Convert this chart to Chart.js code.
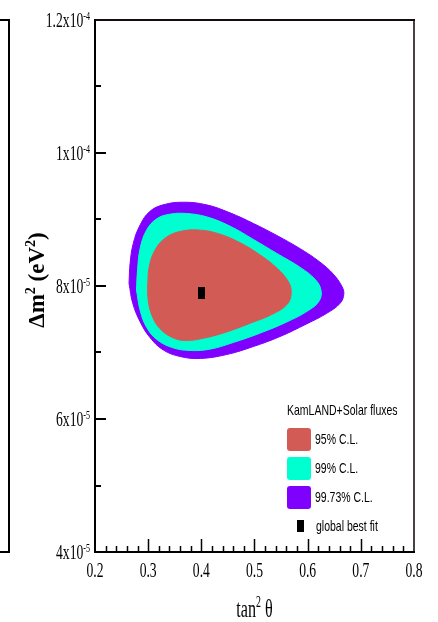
<!DOCTYPE html>
<html>
<head>
<meta charset="utf-8">
<script src="https://cdn.jsdelivr.net/npm/chart.js@4.4.1/dist/chart.umd.min.js"></script>
<style>
  html, body { margin: 0; padding: 0; background: #ffffff; }
  #wrap { position: relative; width: 438px; height: 622px; overflow: hidden; }
  #prev { position: absolute; left: -4px; top: 19px; width: 10px; height: 530px; border: 2px solid #000; }
  canvas { position: absolute; left: 0; top: 0; }
</style>
</head>
<body>
<div id="wrap">
  <div id="prev"></div>
  <canvas id="c" width="438" height="622"></canvas>
</div>
<script>
// Allowed regions in the (tan^2 theta, Delta m^2) plane, KamLAND + solar fluxes
const cl9973Tan2 = [0.264,0.266,0.272,0.285,0.303,0.328,0.366,0.410,0.454,0.498,0.542,0.586,0.623,0.648,0.664,0.668,0.661,0.636,0.598,0.548,0.498,0.448,0.398,0.360,0.328,0.303,0.285,0.271];
const cl9973Dm2  = [8.04e-5,8.34e-5,8.64e-5,8.92e-5,9.12e-5,9.22e-5,9.26e-5,9.22e-5,9.10e-5,8.94e-5,8.76e-5,8.56e-5,8.36e-5,8.18e-5,8.00e-5,7.88e-5,7.74e-5,7.59e-5,7.43e-5,7.24e-5,7.09e-5,6.97e-5,6.91e-5,6.94e-5,7.04e-5,7.23e-5,7.46e-5,7.74e-5];

const cl99Tan2 = [0.278,0.280,0.285,0.297,0.316,0.341,0.372,0.410,0.454,0.498,0.542,0.586,0.614,0.625,0.622,0.601,0.561,0.510,0.460,0.416,0.379,0.347,0.317,0.297,0.285];
const cl99Dm2  = [7.94e-5,8.24e-5,8.57e-5,8.84e-5,9.01e-5,9.08e-5,9.09e-5,9.04e-5,8.90e-5,8.70e-5,8.49e-5,8.28e-5,8.10e-5,7.94e-5,7.78e-5,7.63e-5,7.46e-5,7.29e-5,7.15e-5,7.05e-5,7.03e-5,7.07e-5,7.19e-5,7.38e-5,7.63e-5];

const cl95Tan2 = [0.299,0.302,0.313,0.332,0.360,0.398,0.435,0.473,0.510,0.542,0.564,0.569,0.561,0.532,0.492,0.448,0.407,0.372,0.347,0.322,0.307,0.300];
const cl95Dm2  = [7.99e-5,8.29e-5,8.54e-5,8.72e-5,8.82e-5,8.84e-5,8.78e-5,8.65e-5,8.47e-5,8.27e-5,8.06e-5,7.89e-5,7.72e-5,7.57e-5,7.44e-5,7.31e-5,7.22e-5,7.18e-5,7.22e-5,7.36e-5,7.56e-5,7.79e-5];

const bestFitTan2 = [0.40];
const bestFitDm2  = [7.90e-5];

const seriesLabels = ['95% C.L.', '99% C.L.', '99.73% C.L.', 'global best fit'];
const seriesColors = ['#d25b56', '#00ffd0', '#8000ff', '#000000'];
const legendTitle = 'KamLAND+Solar fluxes';

const xTickValues = [0.2, 0.3, 0.4, 0.5, 0.6, 0.7, 0.8];
const xTickLabels = ['0.2', '0.3', '0.4', '0.5', '0.6', '0.7', '0.8'];
const yTickValues = [4e-5, 6e-5, 8e-5, 1e-4, 1.2e-4];
const yTickMantissa = ['4', '6', '8', '1', '1.2'];
const yTickExponent = ['-5', '-5', '-5', '-4', '-4'];

// closed outline for a contour
function loop(xs, ys) {
  const pts = xs.map((x, i) => ({ x: x, y: ys[i] }));
  pts.push({ x: xs[0], y: ys[0] });
  return pts;
}

// small black rectangle used as the best-fit marker
const marker = document.createElement('canvas');
marker.width = 7; marker.height = 12;
(function () { const m = marker.getContext('2d'); m.fillStyle = '#000'; m.fillRect(0, 0, 7, 12); })();

// narrow text: glyphs squeezed horizontally
const SX = 0.62;
const SXL = 0.7;
function drawText(ctx, str, x, y, font, align, sx) {
  ctx.save();
  ctx.font = font; ctx.textAlign = align; ctx.textBaseline = 'alphabetic';
  ctx.translate(x, y); ctx.scale(sx, 1);
  ctx.fillText(str, 0, 0);
  ctx.restore();
}
function textWidth(ctx, str, font) {
  ctx.save(); ctx.font = font; const w = ctx.measureText(str).width; ctx.restore(); return w;
}

const framePlugin = {
  id: 'frame',
  afterDraw(chart) {
    const ctx = chart.ctx, ca = chart.chartArea;
    const xs = chart.scales.x, ys = chart.scales.y;
    ctx.save();
    ctx.fillStyle = '#000';

    // frame
    ctx.lineWidth = 2;
    ctx.strokeStyle = '#4a4242';
    ctx.beginPath(); ctx.moveTo(ca.right, ca.top); ctx.lineTo(ca.right, ca.bottom); ctx.stroke();
    ctx.strokeStyle = '#140c0c';
    ctx.beginPath(); ctx.moveTo(ca.left, ca.top); ctx.lineTo(ca.right + 1, ca.top); ctx.stroke();
    ctx.strokeStyle = '#000';
    ctx.beginPath();
    ctx.moveTo(ca.left, ca.top - 1); ctx.lineTo(ca.left, ca.bottom);
    ctx.lineTo(ca.right + 1, ca.bottom);
    ctx.stroke();

    // inward ticks on the bottom axis
    ctx.lineWidth = 1.5;
    for (let i = 1; i < 30; i++) {
      const v = 0.2 + i * 0.02;
      const px = Math.round(xs.getPixelForValue(v)) + 0.5;
      const major = i % 5 === 0;
      ctx.beginPath(); ctx.moveTo(px, ca.bottom); ctx.lineTo(px, ca.bottom - (major ? 13 : 6)); ctx.stroke();
    }
    // inward ticks on the left axis
    ctx.lineWidth = 2;
    for (let i = 1; i < 8; i++) {
      const v = 4e-5 + i * 1e-5;
      const py = Math.round(ys.getPixelForValue(v));
      const major = i % 2 === 0;
      ctx.beginPath(); ctx.moveTo(ca.left, py); ctx.lineTo(ca.left + (major ? 11 : 6), py); ctx.stroke();
    }

    // tick labels
    const baseFont = '22px "Liberation Serif"', supFont = '13px "Liberation Serif"';
    yTickValues.forEach((v, i) => {
      const py = ys.getPixelForValue(v);
      const ws = textWidth(ctx, yTickExponent[i], supFont) * SX;
      const xr = ca.left - 5;
      drawText(ctx, yTickMantissa[i] + 'x10', xr - ws, py + 7, baseFont, 'right', SX);
      drawText(ctx, yTickExponent[i], xr - ws, py, supFont, 'left', SX);
    });
    xTickValues.forEach((v, i) => {
      const px = xs.getPixelForValue(v);
      drawText(ctx, xTickLabels[i], px, ca.bottom + 25, baseFont, 'center', SX);
    });

    // x axis title: tan^2 theta
    const tFont = '26px "Liberation Serif"', tSup = '16px "Liberation Serif"';
    const p1 = 'tan', p2 = '2', p3 = ' \u03B8';
    const w1 = textWidth(ctx, p1, tFont) * SX, w2 = textWidth(ctx, p2, tSup) * SX, w3 = textWidth(ctx, p3, tFont) * SX;
    let tx = (ca.left + ca.right) / 2 - (w1 + w2 + w3) / 2;
    const tb = ca.bottom + 65;
    drawText(ctx, p1, tx, tb, tFont, 'left', SX); tx += w1;
    drawText(ctx, p2, tx, tb - 10, tSup, 'left', SX); tx += w2;
    drawText(ctx, p3, tx, tb, tFont, 'left', SX);

    // y axis title: Delta m^2 (eV^2), rotated
    const yFont = 'bold 23px "Liberation Serif"', ySup = 'bold 14px "Liberation Serif"';
    const parts = [['\u0394m', yFont, 0], ['2', ySup, -9], [' (eV', yFont, 0], ['2', ySup, -9], [')', yFont, 0]];
    const widths = parts.map(p => textWidth(ctx, p[0], p[1]));
    const total = widths.reduce((a, b) => a + b, 0);
    ctx.save();
    ctx.translate(44, (ca.top + ca.bottom) / 2 - 6);
    ctx.rotate(-Math.PI / 2);
    ctx.textBaseline = 'alphabetic'; ctx.textAlign = 'left';
    let u = -total / 2;
    parts.forEach((p, i) => { ctx.font = p[1]; ctx.fillText(p[0], u, p[2]); u += widths[i]; });
    ctx.restore();

    // legend inside the plot
    const lx = ca.right - 127;
    const lFont = '15px "Liberation Sans"';
    drawText(ctx, legendTitle, lx, 415, lFont, 'left', SXL);
    const contourOrder = [0, 1, 2];
    contourOrder.forEach((k, j) => {
      const top = 428 + j * 29;
      ctx.fillStyle = seriesColors[k];
      ctx.beginPath();
      ctx.roundRect(lx, top, 24, 23, 3);
      ctx.fill();
      ctx.fillStyle = '#000';
      drawText(ctx, seriesLabels[k], lx + 28, top + 16, lFont, 'left', SXL);
    });
    ctx.drawImage(marker, lx + 10, 520);
    drawText(ctx, seriesLabels[3], lx + 29, 531, lFont, 'left', SXL);

    ctx.restore();
  }
};

new Chart(document.getElementById('c'), {
  type: 'scatter',
  data: {
    datasets: [
      { label: seriesLabels[3], data: bestFitTan2.map((x, i) => ({ x: x, y: bestFitDm2[i] })),
        pointStyle: marker, pointRadius: 6, backgroundColor: '#000', order: 0 },
      { label: seriesLabels[0], data: loop(cl95Tan2, cl95Dm2), showLine: true, fill: 'shape',
        backgroundColor: seriesColors[0], borderColor: seriesColors[0], borderWidth: 1,
        pointRadius: 0, tension: 0.4, order: 1 },
      { label: seriesLabels[1], data: loop(cl99Tan2, cl99Dm2), showLine: true, fill: 'shape',
        backgroundColor: seriesColors[1], borderColor: seriesColors[1], borderWidth: 1,
        pointRadius: 0, tension: 0.4, order: 2 },
      { label: seriesLabels[2], data: loop(cl9973Tan2, cl9973Dm2), showLine: true, fill: 'shape',
        backgroundColor: seriesColors[2], borderColor: seriesColors[2], borderWidth: 1,
        pointRadius: 0, tension: 0.4, order: 3 }
    ]
  },
  options: {
    responsive: false,
    animation: false,
    devicePixelRatio: 1,
    layout: { padding: { left: 95, right: 24, top: 20, bottom: 70 } },
    scales: {
      x: { type: 'linear', min: 0.2, max: 0.8, display: false },
      y: { type: 'linear', min: 4e-5, max: 1.2e-4, display: false }
    },
    plugins: { legend: { display: false }, tooltip: { enabled: false } }
  },
  plugins: [framePlugin]
});
</script>
</body>
</html>
